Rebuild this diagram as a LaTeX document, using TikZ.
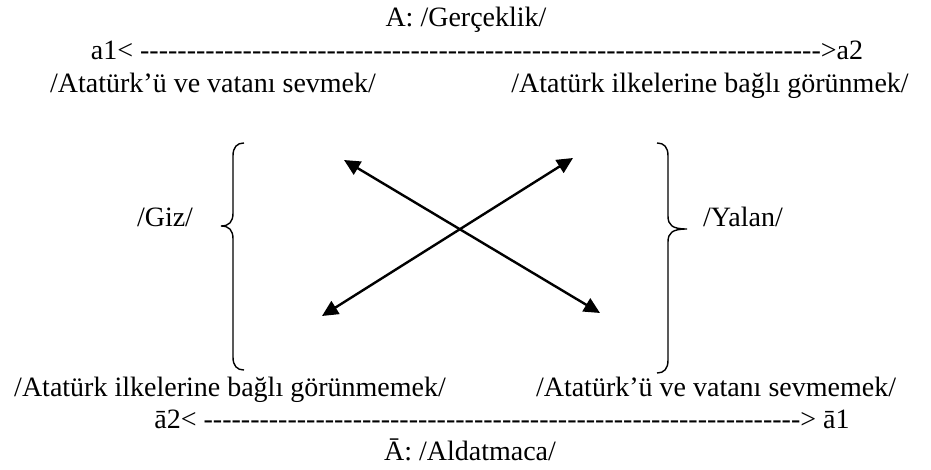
\documentclass[tikz,border=0pt]{standalone}
\usepackage{fontspec}
\setmainfont{Liberation Serif}[Ligatures=TeXOff]
\usetikzlibrary{arrows.meta}
\newcommand\dashrow[1]{\foreach \i in {1,...,#1}{-}}
\begin{document}
\begin{tikzpicture}[x=1pt,y=-1pt,
  lbl/.style={inner sep=0pt,anchor=base,font=\fontsize{28}{34}\selectfont},
  brace/.style={line width=1.4pt},
  cross/.style={line width=2.4pt,{Triangle[length=16pt,width=15pt]}-{Triangle[length=16pt,width=15pt]}}]
\useasboundingbox (0,0) rectangle (931,470);

% top axis
\node[lbl] (A)   at (466,27) {A: /Gerçeklik/};
\node[lbl] (top) at (477,60) {a1< \dashrow{73}>a2};
\node[lbl] (a1)  at (213,93) {/Atatürk’ü ve vatanı sevmek/};
\node[lbl] (a2)  at (710,93) {/Atatürk ilkelerine bağlı görünmek/};

% side labels
\node[lbl] (giz)   at (165,227) {/Giz/};
\node[lbl] (yalan) at (743,227) {/Yalan/};

% bottom axis
\node[lbl] (na2) at (230,396) {/Atatürk ilkelerine bağlı görünmemek/};
\node[lbl] (na1) at (716,396) {/Atatürk’ü ve vatanı sevmemek/};
\node[lbl] (bot) at (502,428) {ā2< \dashrow{64}> ā1};
\node[lbl] (nA)  at (470,460) {Ā: /Aldatmaca/};

% left brace
\draw[brace] (244,143) .. controls (237,143) and (233,147) .. (233,156)
  -- (233,213) .. controls (233,222) and (229,226) .. (221,226)
  .. controls (229,226) and (233,230) .. (233,239)
  -- (233,357) .. controls (233,366) and (237,370) .. (244,370);

% right brace
\draw[brace] (657,143) .. controls (664,143) and (668,147) .. (668,156)
  -- (668,216) .. controls (668,225) and (672,229) .. (687,229)
  .. controls (672,229) and (668,233) .. (668,242)
  -- (668,360) .. controls (668,369) and (664,373) .. (657,373);

% crossing arrows
\coordinate (tl) at (344,160);
\coordinate (br) at (600,313);
\coordinate (bl) at (322,316);
\coordinate (tr) at (573,158);
\draw[cross] (tl) -- (br);
\draw[cross] (bl) -- (tr);
\end{tikzpicture}
\end{document}
